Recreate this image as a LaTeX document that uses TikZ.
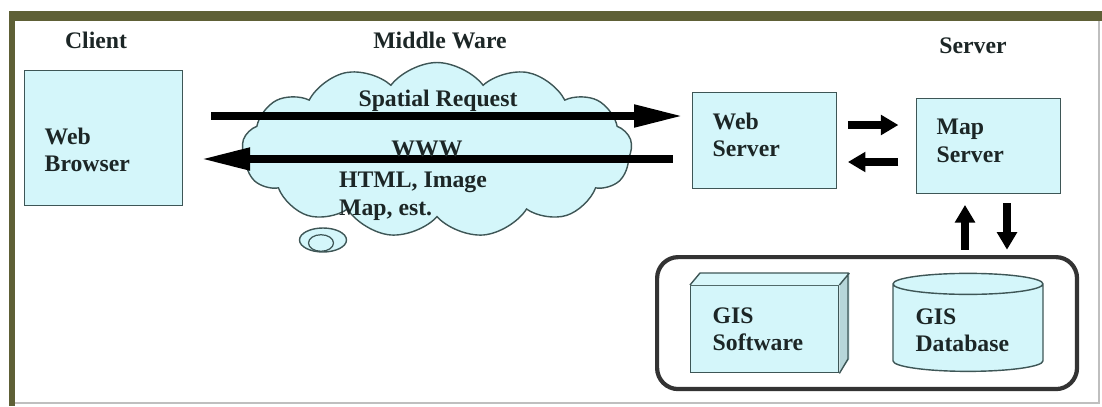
\documentclass[tikz,border=0pt]{standalone}
\usepackage{fontspec}
\setmainfont{Liberation Serif}
\usetikzlibrary{positioning,shapes.symbols,shapes.geometric,arrows.meta}
\definecolor{boxfill}{HTML}{D4F6FA}
\definecolor{boxline}{HTML}{3E5656}
\definecolor{frameolive}{HTML}{5E6036}
\definecolor{inktext}{HTML}{1C2626}

\begin{document}
\begin{tikzpicture}
  [x=0.02cm, y=-0.02cm,
   every node/.style={text=inktext, font=\fontsize{13.5}{15.5}\selectfont\bfseries},
   box/.style={draw=boxline, fill=boxfill, line width=0.8pt, align=left,
     anchor=north west, inner xsep=0.4cm, inner ysep=0pt},
   bigarrow/.style={line width=4.4pt, -{Triangle[length=28pt,width=12pt]}},
   smallarrow/.style={line width=4pt, -{Triangle[length=10pt,width=11pt]}}]
  \useasboundingbox (0,0) rectangle (1102,406);

  % frame
  \fill[frameolive] (9,11) rectangle (1102,21);
  \fill[frameolive] (9,11) rectangle (15,406);
  \draw[black!25, line width=0.6pt] (1099,21) -- (1099,403) -- (15,403);

  % headings
  \node (client) at (96,40) {Client};
  \node (middle) at (440,40) {Middle Ware};
  \node (server) at (973,46) {Server};

  % cloud
  \node (cloud) [cloud, cloud puffs=13, cloud puff arc=105, cloud ignores aspect, draw=boxline,
    fill=boxfill, line width=0.8pt, minimum width=7.8cm, minimum height=3.5cm] at (437,150) {};
  \node (swirl) [ellipse, draw=boxline, fill=boxfill, line width=0.8pt,
    minimum width=0.94cm, minimum height=0.48cm] at (323,240) {};
  \node (swirlin) [ellipse, draw=boxline, line width=0.7pt,
    minimum width=0.5cm, minimum height=0.22cm] at (321,243) {};

  % boxes
  \node (browser) [box, text width=2.36cm, minimum height=2.7cm, text height=0.8cm] at (24,70) {Web\\Browser};
  \node (websrv) [box, text width=2.08cm, minimum height=1.92cm, text height=0.1cm] at (692,92) {Web\\Server};
  \node (mapsrv) [box, text width=2.08cm, minimum height=1.9cm, text height=0.1cm] at (916,98) {Map\\Server};

  % data tier
  \node (gisbox) [draw=black!80, line width=2.4pt, rounded corners=12pt, anchor=north west,
    minimum width=8.4cm, minimum height=2.64cm] at (655,255) {};
  \node (soft) [box, inner xsep=0.44cm, text width=2.08cm, minimum height=1.74cm] at (690,285) {GIS\\Software};
  \fill[boxfill!80!boxline] (soft.north east) -- ++(10,-12) -- ++(0,86) -- (soft.south east) -- cycle;
  \fill[boxfill!90!white] (soft.north west) -- ++(10,-12) -- ++(148,0) -- (soft.north east) -- cycle;
  \draw[boxline, line width=0.8pt] (soft.north west) -- ++(10,-12) -- ++(148,0) -- ++(0,86)
    -- (soft.south east) (soft.north east) -- ++(10,-12);
  \node (gisdb) [cylinder, shape border rotate=90, aspect=0.18, draw=boxline, fill=boxfill,
    line width=0.8pt, minimum width=3cm, minimum height=1.96cm, align=left,
    text width=2.1cm] at (968,330) {GIS\\Database};

  % links
  \coordinate (req) at (0,116);
  \coordinate (resp) at (0,159);
  \coordinate (fwd) at (0,125);
  \coordinate (back) at (0,162);
  \coordinate (up) at (965,0);
  \coordinate (down) at (1007,0);

  \draw[bigarrow, shorten <=16pt, shorten >=5pt] (browser.east |- req) -- (websrv.west |- req);
  \draw[bigarrow, shorten <=11pt, shorten >=10pt] (websrv.west |- resp) -- (browser.east |- resp);
  \draw[smallarrow, shorten <=6pt, shorten >=10pt] (websrv.east |- fwd) -- (mapsrv.west |- fwd);
  \draw[smallarrow, shorten <=10pt, shorten >=6pt] (mapsrv.west |- back) -- (websrv.east |- back);
  \draw[smallarrow, shorten <=3pt, shorten >=6pt] (gisbox.north -| up) -- (mapsrv.south -| up);
  \draw[smallarrow, shorten <=5pt, shorten >=3pt] (mapsrv.south -| down) -- (gisbox.north -| down);

  % link labels
  \node (reqlabel) at (438,101) {Spatial Request};
  \node (wwwlabel) at (427,149) {WWW};
  \node (htmllabel) [anchor=west] at (333,182) {HTML, Image};
  \node (maplabel) [anchor=west] at (333,210) {Map, est.};
\end{tikzpicture}
\end{document}
